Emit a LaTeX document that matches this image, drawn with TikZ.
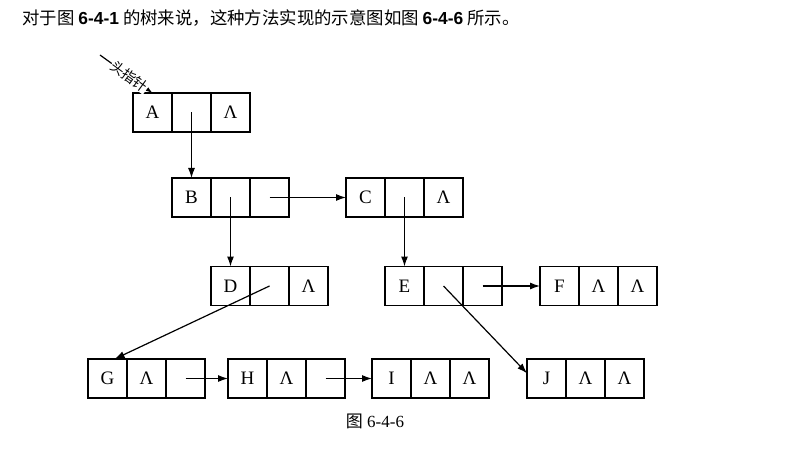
\documentclass[tikz,border=0pt]{standalone}
\usepackage{fontspec}
\setmainfont{Liberation Serif}
\setsansfont{Liberation Sans}
\newfontfamily\cjk{Noto Sans CJK SC}
\usetikzlibrary{arrows.meta,positioning}
% one record of three cells: name, position of first cell, texts
\newcommand{\record}[5]{%
  \node[cell] (#1-1) at #2 {#3};
  \node[cell, right=0pt of #1-1] (#1-2) {#4};
  \node[cell, right=0pt of #1-2] (#1-3) {#5};}

\begin{document}
\begin{tikzpicture}[x=0.5pt, y=-0.5pt, font=\fontsize{9.5}{11}\selectfont,
  cell/.style={draw, line width=0.6pt, minimum width=19.5pt, minimum height=19.5pt, inner sep=0pt, outer sep=0pt},
  arr/.style={-{Latex[length=5pt,width=3.5pt]}, line width=0.6pt}]
  \useasboundingbox (0,0) rectangle (795,459);
  \node[anchor=west, inner sep=0pt, font=\cjk\fontsize{8.7}{10}\selectfont] (intro) at (22,18)
    {对于图 {\sffamily\bfseries 6-4-1} 的树来说，这种方法实现的示意图如图 {\sffamily\bfseries 6-4-6} 所示。};
  \record{A}{(152.5,112.5)}{A}{}{Λ}
  \record{B}{(191.5,197.5)}{B}{}{}
  \record{C}{(365.5,197.5)}{C}{}{Λ}
  \record{D}{(230.5,286)}{D}{}{Λ}
  \record{E}{(404.5,286)}{E}{}{}
  \record{F}{(559.5,286)}{F}{Λ}{Λ}
  \record{G}{(107.5,378.5)}{G}{Λ}{}
  \record{H}{(247.5,378.5)}{H}{Λ}{}
  \record{I}{(391.5,378.5)}{I}{Λ}{Λ}
  \record{J}{(546.5,378.5)}{J}{Λ}{Λ}
  \coordinate (head) at (100,55);
  \draw[arr] (head) -- node[sloped, pos=0.56, fill=white, inner sep=0.3pt, font=\cjk\fontsize{7}{8}\selectfont] {头指针} (A-1.north);
  \draw[arr] (A-2.center) -- (B-1.north);
  \draw[arr] (B-2.center) -- (D-1.north);
  \draw[arr] (B-3.center) -- (C-1.west);
  \draw[arr] (C-2.center) -- (E-1.north);
  \draw[arr] (D-2.center) -- (G-1.70);
  \draw[arr] (E-2.center) -- (J-1.165);
  \draw[arr] (E-3.center) -- (F-1.west);
  \draw[arr] (G-3.center) -- (H-1.west);
  \draw[arr] (H-3.center) -- (I-1.west);
  \node[font=\fontsize{8.5}{10}\selectfont] (caption) at (375,421) {{\cjk 图} 6-4-6};
\end{tikzpicture}
\end{document}
